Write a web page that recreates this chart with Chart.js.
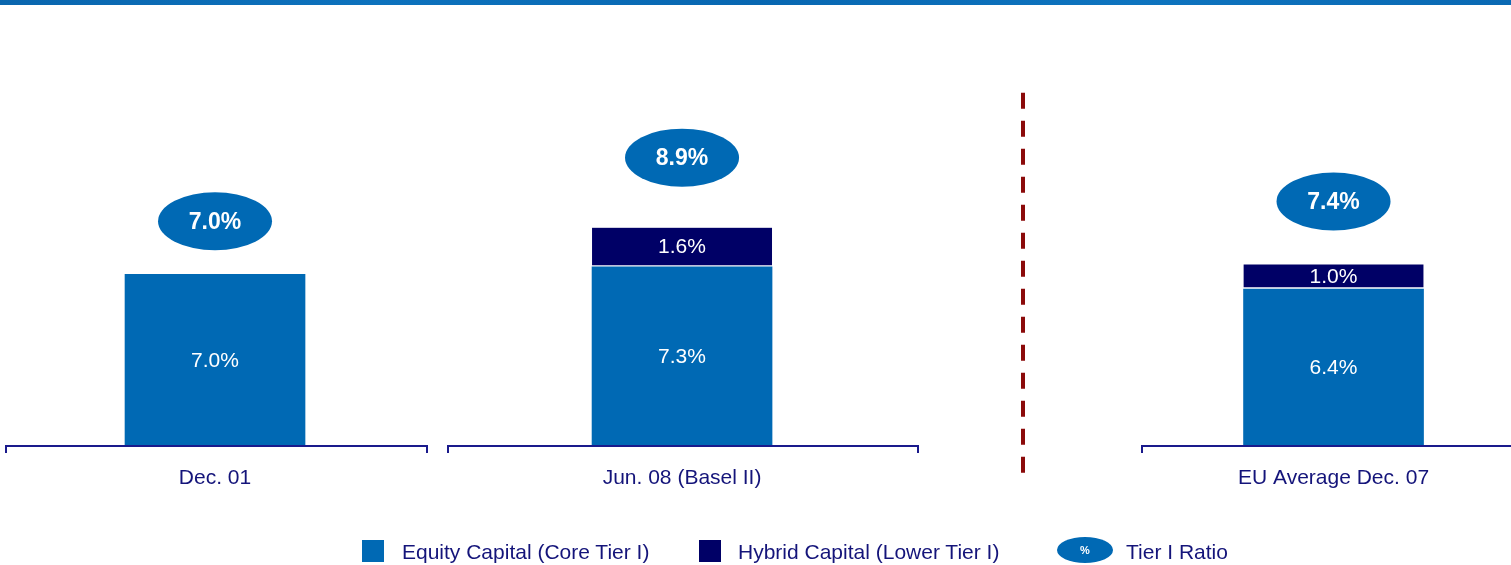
<!DOCTYPE html>
<html>
<head>
<meta charset="utf-8">
<title>Tier I Capital</title>
<script src="https://cdn.jsdelivr.net/npm/chart.js@4.4.1/dist/chart.umd.min.js"></script>
<style>
  html, body { margin: 0; padding: 0; background: #fff; }
  #wrap { position: relative; width: 1511px; height: 565px; overflow: hidden;
          font-family: "Liberation Sans", Arial, sans-serif; }
  #band { position: absolute; left: 0; top: 0; width: 1511px; height: 5px;
          background: linear-gradient(90deg, #0a66ae 0%, #0d72bd 25%, #0867b1 50%, #0e74bf 75%, #0a69b3 100%); }
  #chart { position: absolute; left: 0; top: 0; }
  .box { position: absolute; width: 22px; height: 22px; }
  .txt { position: absolute; top: 539px; line-height: 26px; font-size: 21px; color: #14147a; white-space: nowrap; }
  .oval { position: absolute; left: 1057px; top: 537px; width: 56px; height: 26px; border-radius: 50%;
          background: #0069b4; color: #fff; font-weight: bold; font-size: 11px; line-height: 26px; text-align: center; }
</style>
</head>
<body>
<div id="wrap">
  <canvas id="chart" width="1511" height="565"></canvas>
  <div id="band"></div>
  <div class="box" style="left:362px;top:540px;background:#0069b4"></div>
  <div class="txt" style="left:402px">Equity Capital (Core Tier I)</div>
  <div class="box" style="left:699px;top:540px;background:#000066"></div>
  <div class="txt" style="left:738px">Hybrid Capital (Lower Tier I)</div>
  <div class="oval">%</div>
  <div class="txt" style="left:1126px">Tier I Ratio</div>
</div>
<script>
// Categories and values (percent of risk-weighted assets)
const categories = ['Dec. 01', 'Jun. 08 (Basel II)', 'EU Average Dec. 07'];
const equityCapital = [7.0, 7.3, 6.4];
const hybridCapital = [null, 1.6, 1.0];
const tierOneRatio = [7.0, 8.9, 7.4];

// Layout: group centres on the x scale, axis segments, divider and bubble lift
const groupPos = [0, 1, 2.395];
const axisSegments = [[-0.447, 0.454, true], [0.499, 1.505, true], [1.985, 3.0, false]];
const divider = { x: 1.73, from: 14.4, to: -1.15 };
const bubbleLift = [53, 70, 63];

const EQUITY = '#0069b4';
const HYBRID = '#000066';
const AXIS = '#1a1a8c';
const FONT = '"Liberation Sans", Arial, sans-serif';

const overlay = {
  id: 'overlay',
  afterDatasetsDraw(chart) {
    const { ctx, scales: { x, y } } = chart;
    const base = y.getPixelForValue(0);
    ctx.save();

    // separate axis line under each group
    ctx.strokeStyle = AXIS;
    ctx.lineWidth = 2;
    axisSegments.forEach(([a, b, closed]) => {
      const x0 = Math.round(x.getPixelForValue(a));
      const x1 = Math.round(x.getPixelForValue(b));
      ctx.beginPath();
      ctx.moveTo(x0, base + 7);
      ctx.lineTo(x0, base);
      ctx.lineTo(x1, base);
      if (closed) ctx.lineTo(x1, base + 7);
      ctx.stroke();
    });

    // dashed divider before the EU comparison
    ctx.strokeStyle = '#8b0a0a';
    ctx.lineWidth = 4;
    ctx.setLineDash([16, 12]);
    const dx = Math.round(x.getPixelForValue(divider.x));
    ctx.beginPath();
    ctx.moveTo(dx, y.getPixelForValue(divider.from));
    ctx.lineTo(dx, y.getPixelForValue(divider.to));
    ctx.stroke();
    ctx.setLineDash([]);

    // values inside each bar segment
    ctx.fillStyle = '#fff';
    ctx.textAlign = 'center';
    ctx.textBaseline = 'middle';
    ctx.font = '21px ' + FONT;
    chart.data.datasets.forEach((ds, di) => {
      const meta = chart.getDatasetMeta(di);
      meta.data.forEach((bar, i) => {
        const v = ds.data[i].y;
        if (v === null || v === undefined) return;
        const gap = di === 1 ? 2 : 0;
        ctx.fillText(v.toFixed(1) + '%', bar.x, (bar.y + bar.base - gap) / 2 + 1);
      });
    });

    // Tier I ratio bubbles above each stack
    tierOneRatio.forEach((v, i) => {
      const cx = x.getPixelForValue(groupPos[i]);
      const cy = y.getPixelForValue(v) - bubbleLift[i];
      ctx.fillStyle = EQUITY;
      ctx.beginPath();
      ctx.ellipse(cx, cy, 57, 29, 0, 0, Math.PI * 2);
      ctx.fill();
      ctx.fillStyle = '#fff';
      ctx.font = 'bold 23px ' + FONT;
      ctx.fillText(v.toFixed(1) + '%', cx, cy + 1);
    });
    ctx.restore();
  }
};

new Chart(document.getElementById('chart'), {
  type: 'bar',
  data: {
    datasets: [
      {
        label: 'Equity Capital (Core Tier I)',
        data: equityCapital.map((v, i) => ({ x: groupPos[i], y: v })),
        backgroundColor: EQUITY,
        borderWidth: 0,
        barThickness: 180
      },
      {
        label: 'Hybrid Capital (Lower Tier I)',
        data: hybridCapital.map((v, i) => ({ x: groupPos[i], y: v })),
        backgroundColor: HYBRID,
        borderColor: '#ffffff',
        borderWidth: { top: 0, left: 0, right: 0, bottom: 2 },
        borderSkipped: false,
        barThickness: 180
      }
    ]
  },
  options: {
    responsive: false,
    animation: false,
    layout: { padding: { top: 78, left: 0, right: 0, bottom: 0 } },
    plugins: { legend: { display: false }, tooltip: { enabled: false } },
    scales: {
      x: {
        type: 'linear',
        stacked: true,
        offset: false,
        min: -0.4604,
        max: 2.775,
        grid: { display: false, drawTicks: false, offset: false },
        border: { display: false },
        afterBuildTicks(scale) { scale.ticks = groupPos.map(v => ({ value: v })); },
        afterFit(scale) { scale.height = 119; },
        ticks: {
          autoSkip: false,
          maxRotation: 0,
          padding: 20,
          color: '#14147a',
          font: { family: FONT, size: 21 },
          callback: (v, i) => categories[i]
        }
      },
      y: {
        display: false,
        stacked: true,
        min: 0,
        max: 15
      }
    }
  },
  plugins: [overlay]
});
</script>
</body>
</html>
